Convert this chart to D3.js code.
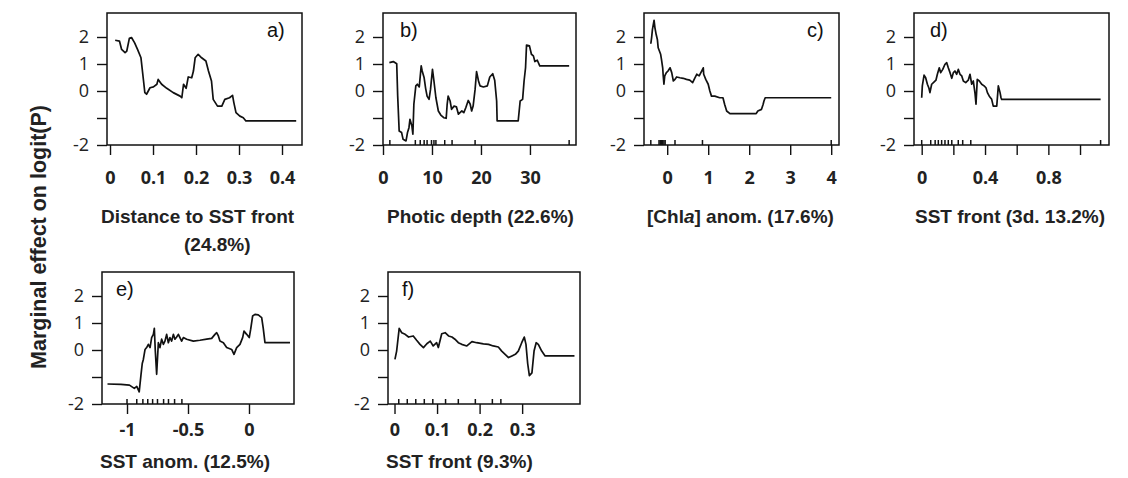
<!DOCTYPE html>
<html>
<head>
<meta charset="utf-8">
<script src="https://cdn.jsdelivr.net/npm/d3@7"></script>
<style>
  body { margin: 0; background: #fff; }
  .tick text { font-family: "Open Sans", sans-serif; }
</style>
</head>
<body>
<div id="chart"></div>
<script>
// a) distance to SST front
const distFrontX = [0.012,0.022,0.027,0.035,0.039,0.045,0.050,0.057,0.064,0.072,0.078,0.081,0.085,0.093,0.101,0.109,0.112,0.120,0.132,0.147,0.163,0.167,0.171,0.177,0.182,0.190,0.194,0.198,0.205,0.213,0.223,0.229,0.236,0.240,0.250,0.260,0.267,0.278,0.285,0.288,0.293,0.302,0.310,0.316,0.433];
const distFrontY = [1.88,1.85,1.54,1.42,1.48,1.95,1.98,1.79,1.54,1.23,0.37,-0.06,-0.12,0.12,0.15,0.25,0.43,0.25,0.10,-0.06,-0.19,-0.25,0.25,0.10,0.52,0.49,0.74,1.23,1.36,1.23,1.11,0.74,0.37,-0.31,-0.56,-0.56,-0.31,-0.25,-0.16,-0.43,-0.80,-0.93,-0.99,-1.11,-1.11];
const distFrontRug = [];

// b) photic depth
const photicX = [1.3,2.1,2.8,3.0,3.3,3.8,4.1,4.7,5.0,5.3,5.5,5.9,6.1,6.3,6.7,7.0,7.4,7.8,8.0,8.4,8.7,9.0,9.4,9.7,10.1,10.4,10.8,11.3,11.8,12.4,12.9,13.1,13.3,13.7,14.0,14.5,15.0,15.4,16.1,16.5,16.9,17.4,17.8,18.1,18.4,18.8,19.1,19.5,19.8,20.5,21.3,21.8,22.4,22.8,23.2,23.3,27.6,28.0,28.5,28.8,29.1,29.3,29.9,30.3,30.7,31.0,31.5,32.0,38.0];
const photicY = [1.05,1.09,1.01,-0.19,-1.48,-1.54,-1.79,-1.85,-1.54,-1.36,-1.05,-1.30,-1.60,-0.49,0.19,0.25,0.15,0.93,0.74,0.49,0.10,-0.19,-0.31,0.06,0.80,0.37,-0.25,-0.74,-0.89,-0.99,-1.01,-0.49,-0.19,-0.37,-0.68,-0.56,-0.59,-0.86,-0.74,-0.80,-0.62,-0.35,-0.49,-0.74,-0.56,0.06,0.72,0.37,0.19,0.15,0.19,0.52,0.64,0.40,-0.37,-1.11,-1.11,-0.37,-0.31,0.37,0.86,1.70,1.67,1.36,1.30,1.09,1.14,0.93,0.93];
const photicRug = [1.4,6.6,7.6,8.4,9.0,9.9,10.4,10.8,12.6,14.1,18.8,38.0];

// c) [Chla] anomaly
const chlaX = [-0.40,-0.38,-0.36,-0.32,-0.30,-0.27,-0.24,-0.22,-0.19,-0.16,-0.14,-0.11,-0.10,-0.08,-0.06,-0.02,0.02,0.07,0.11,0.15,0.19,0.23,0.31,0.39,0.47,0.55,0.62,0.67,0.72,0.78,0.84,0.88,0.89,0.94,1.00,1.04,1.08,1.16,1.28,1.36,1.40,1.45,1.53,2.17,2.21,2.30,2.34,2.36,2.39,4.00];
const chlaY = [1.75,1.98,2.28,2.62,2.35,2.10,1.91,1.60,1.48,1.36,1.17,0.86,0.62,0.25,0.56,0.68,0.74,0.86,0.68,0.37,0.43,0.52,0.49,0.47,0.43,0.40,0.31,0.47,0.62,0.56,0.74,0.86,0.62,0.43,0.25,0.0,-0.19,-0.19,-0.25,-0.25,-0.49,-0.74,-0.84,-0.84,-0.74,-0.68,-0.49,-0.37,-0.25,-0.25];
const chlaRug = [-0.40,-0.20,-0.17,-0.14,-0.11,-0.08,-0.05,0.19,0.86,4.0];

// d) SST front (3d)
const front3dX = [0.0,0.004,0.015,0.025,0.036,0.046,0.052,0.063,0.074,0.09,0.099,0.111,0.12,0.133,0.147,0.158,0.168,0.179,0.19,0.2,0.21,0.221,0.231,0.242,0.253,0.263,0.278,0.294,0.305,0.316,0.326,0.337,0.343,0.351,0.364,0.379,0.394,0.406,0.415,0.427,0.442,0.452,0.474,0.484,0.495,0.501,0.505,1.13];
const front3dY = [-0.25,0.19,0.59,0.49,0.25,0.10,-0.06,0.25,0.31,0.40,0.62,0.86,0.68,0.80,0.99,1.05,0.86,0.68,0.47,0.68,0.74,0.62,0.80,0.62,0.56,0.37,0.31,0.40,0.62,0.25,0.37,-0.10,-0.49,0.43,0.37,0.25,0.19,0.12,-0.06,-0.19,-0.31,-0.56,-0.56,0.19,-0.06,-0.25,-0.31,-0.31];
const front3dRug = [0,0.057,0.085,0.105,0.126,0.147,0.168,0.19,0.231,0.259,0.31,1.13];

// e) SST anomaly
const sstAnomX = [-1.16,-1.05,-0.98,-0.94,-0.92,-0.90,-0.885,-0.875,-0.866,-0.852,-0.839,-0.825,-0.811,-0.798,-0.784,-0.776,-0.768,-0.757,-0.743,-0.730,-0.716,-0.702,-0.689,-0.675,-0.661,-0.648,-0.634,-0.620,-0.607,-0.593,-0.579,-0.552,-0.538,-0.511,-0.456,-0.402,-0.347,-0.306,-0.279,-0.265,-0.251,-0.238,-0.210,-0.183,-0.142,-0.123,-0.101,-0.074,-0.052,-0.041,-0.019,0.002,0.014,0.030,0.049,0.076,0.104,0.117,0.131,0.336];
const sstAnomY = [-1.26,-1.27,-1.30,-1.42,-1.35,-1.55,-0.9,-0.5,-0.35,0.02,0.09,0.21,0.09,0.46,0.58,0.80,-0.04,-0.9,0.27,0.09,0.40,0.21,0.33,0.58,0.27,0.46,0.33,0.58,0.40,0.48,0.58,0.33,0.46,0.40,0.33,0.36,0.40,0.43,0.58,0.64,0.52,0.33,0.27,0.09,0.02,-0.16,0.09,0.21,0.46,0.70,0.58,0.46,0.77,1.26,1.32,1.30,1.20,0.80,0.27,0.27];
const sstAnomRug = [-1.0,-0.92,-0.87,-0.83,-0.79,-0.75,-0.70,-0.66,-0.61,-0.55];

// f) SST front
const frontX = [0.001,0.005,0.011,0.017,0.025,0.033,0.044,0.052,0.060,0.068,0.076,0.084,0.091,0.099,0.103,0.111,0.119,0.127,0.135,0.142,0.150,0.158,0.170,0.182,0.193,0.209,0.221,0.232,0.244,0.252,0.260,0.268,0.276,0.284,0.291,0.299,0.305,0.309,0.313,0.317,0.323,0.328,0.333,0.338,0.346,0.354,0.423];
const frontY = [-0.35,-0.04,0.80,0.64,0.58,0.48,0.52,0.36,0.21,0.09,0.23,0.33,0.15,0.27,0.09,0.60,0.64,0.52,0.48,0.40,0.27,0.21,0.15,0.31,0.27,0.23,0.21,0.15,0.11,-0.04,-0.16,-0.28,-0.22,-0.16,-0.04,0.27,0.48,0.21,-0.5,-0.95,-0.85,-0.04,0.27,0.21,-0.04,-0.22,-0.22];
const frontRug = [0.01,0.03,0.05,0.07,0.09,0.12,0.15,0.19,0.23,0.25];

// tick values / labels
const yTicks = [-2, -1, 0, 1, 2];
const yTickLabels = ["-2", "", "0", "1", "2"];
const distFrontTicks = [0, 0.1, 0.2, 0.3, 0.4];
const distFrontLabels = ["0", "0.1", "0.2", "0.3", "0.4"];
const photicTicks = [0, 10, 20, 30];
const photicLabels = ["0", "10", "20", "30"];
const chlaTicks = [0, 1, 2, 3, 4];
const chlaLabels = ["0", "1", "2", "3", "4"];
const front3dTicks = [0, 0.2, 0.4, 0.6, 0.8, 1.0];
const front3dLabels = ["0", "", "0.4", "", "0.8", ""];
const sstAnomTicks = [-1, -0.5, 0];
const sstAnomLabels = ["-1", "-0.5", "0"];
const frontTicks = [0, 0.1, 0.2, 0.3];
const frontLabels = ["0", "0.1", "0.2", "0.3"];

// layout
const rows = [
  { top: 13, bottom: 145, pad: 16, title1: 223, title2: 251 },
  { top: 272, bottom: 404, pad: 9, title1: 468 }
];

const panels = [
  { row: 0, left: 107, right: 302, domain: [-0.007, 0.4465], xs: distFrontX, ys: distFrontY, rug: distFrontRug,
    ticks: distFrontTicks, labels: distFrontLabels, tag: "a)", tagX: 267,
    title: ["Distance to SST front", "(24.8%)"], titleX: [101, 184] },
  { row: 0, left: 383, right: 576, domain: [0, 39.4], xs: photicX, ys: photicY, rug: photicRug,
    ticks: photicTicks, labels: photicLabels, tag: "b)", tagX: 400,
    title: ["Photic depth (22.6%)"], titleX: [387] },
  { row: 0, left: 644, right: 839, domain: [-0.566, 4.19], xs: chlaX, ys: chlaY, rug: chlaRug,
    ticks: chlaTicks, labels: chlaLabels, tag: "c)", tagX: 807,
    title: ["chla"], titleX: [647] },
  { row: 0, left: 914, right: 1109, domain: [-0.0486, 1.183], xs: front3dX, ys: front3dY, rug: front3dRug,
    ticks: front3dTicks, labels: front3dLabels, tag: "d)", tagX: 930,
    title: ["SST front (3d. 13.2%)"], titleX: [915] },
  { row: 1, left: 102, right: 294, domain: [-1.205, 0.369], xs: sstAnomX, ys: sstAnomY, rug: sstAnomRug,
    ticks: sstAnomTicks, labels: sstAnomLabels, tag: "e)", tagX: 116,
    title: ["SST anom. (12.5%)"], titleX: [100] },
  { row: 1, left: 388, right: 580, domain: [-0.0153, 0.436], xs: frontX, ys: frontY, rug: frontRug,
    ticks: frontTicks, labels: frontLabels, tag: "f)", tagX: 402,
    title: ["SST front (9.3%)"], titleX: [386] }
];

const svg = d3.select("#chart").append("svg")
  .attr("width", 1128)
  .attr("height", 478);

panels.forEach(p => {
  const r = rows[p.row];
  const x = d3.scaleLinear().domain(p.domain).range([p.left, p.right]);
  const y = d3.scaleLinear().domain([-2, 2]).range([r.bottom, r.bottom - 108]);
  const g = svg.append("g");

  // y axis
  const ya = g.append("g")
    .attr("transform", `translate(${p.left},0)`)
    .call(d3.axisLeft(y).tickValues(yTicks).tickSize(10).tickPadding(8)
      .tickFormat((d, i) => yTickLabels[i]));
  ya.select(".domain").remove();
  ya.selectAll("line").attr("stroke", "#111").attr("stroke-width", 1.4);
  ya.selectAll("text").attr("font-size", 18).attr("fill", "#222");

  // x axis
  const xa = g.append("g")
    .attr("transform", `translate(0,${r.bottom})`)
    .call(d3.axisBottom(x).tickValues(p.ticks).tickSize(10).tickPadding(r.pad)
      .tickFormat((d, i) => p.labels[i]));
  xa.select(".domain").remove();
  xa.selectAll("line").attr("stroke", "#111").attr("stroke-width", 1.4);
  xa.selectAll("text").attr("font-size", 18).attr("font-weight", 700).attr("fill", "#222");

  // rug
  g.selectAll(".rug").data(p.rug).enter().append("line")
    .attr("x1", d => x(d)).attr("x2", d => x(d))
    .attr("y1", r.bottom).attr("y2", r.bottom - 5)
    .attr("stroke", "#111").attr("stroke-width", 1.5);

  // curve
  const line = d3.line().x(d => x(d[0])).y(d => y(d[1]));
  g.append("path")
    .datum(d3.zip(p.xs, p.ys))
    .attr("fill", "none")
    .attr("stroke", "#111")
    .attr("stroke-width", 1.7)
    .attr("stroke-linejoin", "round")
    .attr("d", line);

  // frame
  g.append("rect")
    .attr("x", p.left).attr("y", r.top)
    .attr("width", p.right - p.left).attr("height", r.bottom - r.top)
    .attr("fill", "none").attr("stroke", "#111").attr("stroke-width", 1.5);

  // panel tag
  g.append("text")
    .attr("x", p.tagX).attr("y", r.top + 24)
    .attr("font-family", "Liberation Sans, Arial, sans-serif")
    .attr("font-size", 20).attr("fill", "#111")
    .text(p.tag);

  // axis title
  const ty = [r.title1, r.title2];
  p.title.forEach((t, i) => {
    const txt = g.append("text")
      .attr("x", p.titleX[i]).attr("y", ty[i])
      .attr("font-family", "Liberation Sans, Arial, sans-serif")
      .attr("font-size", 19).attr("font-weight", 700).attr("fill", "#222");
    if (t === "chla") {
      txt.append("tspan").text("[Chl");
      txt.append("tspan").attr("font-style", "italic").text("a");
      txt.append("tspan").text("] anom. (17.6%)");
    } else {
      txt.text(t);
    }
  });
});

svg.append("text")
  .attr("transform", "translate(46,237) rotate(-90)")
  .attr("text-anchor", "middle")
  .attr("font-family", "Liberation Sans, Arial, sans-serif")
  .attr("font-size", 21.5).attr("font-weight", 700).attr("fill", "#222")
  .text("Marginal effect on logit(P)");
</script>
</body>
</html>
